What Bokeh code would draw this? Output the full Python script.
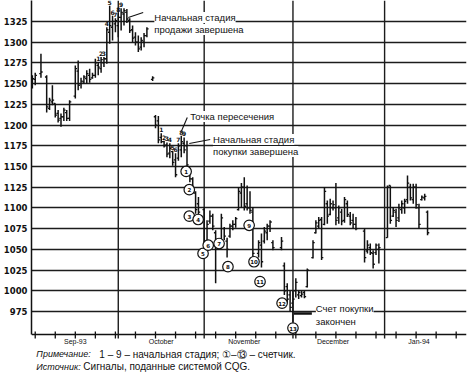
from bokeh.plotting import figure
from bokeh.models import ColumnDataSource, FixedTicker, Range1d, Label
from bokeh.core.properties import value
from bokeh.embed import file_html
from bokeh.resources import INLINE

# Daily bars; day = calendar days counted from 1 September
day = [0, 1, 3, 5, 6, 7, 8, 9, 10, 11, 12, 13, 15, 16, 17, 18, 19, 20, 21, 22, 23, 24, 25, 26, 27, 28, 29,
       30, 31, 32, 33, 34, 35, 36, 37, 38, 39, 40, 42, 43, 44, 45, 46, 47, 48, 49, 50, 51, 52, 53, 54, 55, 56, 57, 58, 60,
       61, 62, 63, 64, 66, 67, 68, 69, 70, 71, 72, 73, 74, 75, 76, 77, 79, 80, 81, 82, 83, 84, 87, 88, 89, 90,
       91, 92, 93, 94, 95, 96, 98, 99, 100, 101, 102, 103, 104, 105, 106, 107, 108, 109, 110, 111, 112, 113,
       116, 117, 118, 119, 120, 121,
       124, 125, 126, 127, 128, 129, 130, 131, 132, 133, 134, 135, 136, 137, 138]
open_ = [1252, 1255, 1262, 1258, 1220, 1228, 1226, 1214, 1208, 1210, 1215, 1208, 1235, 1265, 1250, 1252, 1256, 1260, 1257, 1260, 1272, 1268, 1275, 1280, 1312, 1318, 1322,
         1320, 1330, 1334, 1336, 1326, 1315, 1306, 1300, 1294, 1300, 1308, 1255, 1210, 1205, 1185, 1180, 1176, 1166, 1168, 1158, 1160, 1170, 1178, 1175, 1147, 1135, 1118, 1105, 1098,
         1060, 1084, 1090, 1070, 1062, 1075, 1060, 1066, 1078, 1080, 1098, 1118, 1125, 1105, 1100, 1095, 1045, 1055, 1060, 1070, 1078, 1058, 1052, 1030, 1005, 995,
         985, 1000, 995, 994, 998, 1005, 1040, 1070, 1078, 1086, 1080, 1105, 1092, 1100, 1100, 1088, 1095, 1085, 1105, 1090, 1085, 1080,
         1072, 1048, 1052, 1045, 1046, 1050,
         1064, 1127, 1090, 1095, 1088, 1098, 1100, 1110, 1125, 1110, 1125, 1100, 1110, 1112, 1095]
high = [1260, 1263, 1286, 1260, 1233, 1248, 1226, 1218, 1214, 1221, 1218, 1230, 1272, 1278, 1257, 1260, 1266, 1268, 1263, 1280, 1276, 1282, 1282, 1318, 1344, 1332, 1329,
        1335, 1341, 1341, 1340, 1329, 1320, 1312, 1308, 1306, 1311, 1318, 1259, 1212, 1211, 1190, 1181, 1179, 1178, 1169, 1166, 1178, 1187, 1185, 1181, 1148, 1137, 1120, 1113, 1101,
        1085, 1097, 1093, 1073, 1093, 1077, 1064, 1081, 1085, 1089, 1125, 1130, 1137, 1127, 1120, 1101, 1061, 1069, 1077, 1081, 1085, 1061, 1065, 1034, 1009, 1000,
        1000, 1015, 1000, 1000, 1000, 1027, 1061, 1085, 1089, 1089, 1125, 1109, 1111, 1109, 1130, 1103, 1099, 1113, 1109, 1095, 1093, 1089,
        1075, 1061, 1057, 1049, 1057, 1057,
        1127, 1127, 1101, 1099, 1105, 1109, 1111, 1139, 1129, 1129, 1129, 1105, 1115, 1117, 1097]
low = [1244, 1248, 1257, 1215, 1218, 1224, 1209, 1203, 1198, 1205, 1205, 1205, 1232, 1242, 1244, 1250, 1250, 1251, 1256, 1257, 1260, 1263, 1270, 1274, 1298, 1302, 1312,
       1306, 1314, 1320, 1323, 1311, 1300, 1296, 1288, 1290, 1294, 1306, 1253, 1196, 1178, 1178, 1173, 1161, 1160, 1151, 1137, 1157, 1161, 1166, 1149, 1131, 1117, 1093, 1090, 1045,
       1057, 1081, 1073, 1009, 1057, 1061, 1040, 1064, 1073, 1076, 1097, 1100, 1097, 1097, 1093, 1040, 1040, 1028, 1057, 1061, 1071, 1049, 1049, 995, 985, 975,
       962, 992, 990, 992, 991, 1004, 1039, 1069, 1075, 1037, 1079, 1081, 1091, 1097, 1079, 1081, 1079, 1082, 1089, 1079, 1075, 1073,
       1034, 1045, 1043, 1027, 1043, 1033,
       1064, 1081, 1089, 1077, 1083, 1093, 1093, 1105, 1109, 1105, 1099, 1075, 1109, 1109, 1067]
close = [1256, 1260, 1264, 1222, 1230, 1230, 1212, 1206, 1210, 1218, 1208, 1228, 1268, 1248, 1253, 1258, 1262, 1255, 1260, 1275, 1270, 1279, 1280, 1315, 1320, 1325, 1326,
         1330, 1336, 1338, 1328, 1314, 1305, 1300, 1292, 1302, 1308, 1316, 1257, 1200, 1182, 1180, 1175, 1165, 1172, 1155, 1140, 1175, 1180, 1170, 1152, 1135, 1120, 1098, 1095, 1055,
         1080, 1090, 1078, 1062, 1088, 1066, 1050, 1078, 1080, 1087, 1120, 1125, 1102, 1100, 1097, 1045, 1058, 1035, 1072, 1078, 1083, 1052, 1060, 1000, 990, 980,
         990, 1010, 998, 996, 993, 1025, 1058, 1082, 1085, 1040, 1120, 1090, 1105, 1104, 1085, 1100, 1084, 1110, 1092, 1082, 1080, 1075,
         1040, 1055, 1046, 1032, 1055, 1052,
         1125, 1085, 1097, 1085, 1100, 1105, 1108, 1130, 1112, 1125, 1104, 1080, 1113, 1114, 1070]

# TD setup bars (counts 1-9)
sell_setup_days = [23, 24, 25, 26, 27, 28, 29, 30, 31]
buy_setup_days = [45, 46, 47, 48, 49, 50, 51, 52, 53]

# TD countdown marks (circled 1-13)
countdown_day = [53.7, 54.8, 54.8, 57.9, 59.6, 61.4, 65.2, 68.3, 75.7, 77.4, 79.5, 87.2, 91.0]
countdown_price = [1144, 1122, 1090, 1086, 1045, 1055, 1057, 1029, 1079, 1035, 1011, 985, 955]

price_ticks = list(range(975, 1326, 25))
week_ticks = list(range(1, 149, 7))
month_starts = [30, 60, 91, 123]
month_label_at = [15, 45, 74, 105, 135]
month_names = ["Sep-93", "October", "November", "December", "Jan-94"]

FONT = "Liberation Sans"
INK = "#111111"

# price scale: 378 px tall canvas, the time axis sits at the price AXIS_Y
X0, X1 = -0.3, 151.6
AXIS_Y, Y_TOP = 947.2, 1350.3
UNITS_PER_PX = (Y_TOP - AXIS_Y) / 334.0
Y_BOTTOM = Y_TOP - 378 * UNITS_PER_PX

p = figure(width=467, height=378, x_range=Range1d(X0, X1), y_range=Range1d(Y_BOTTOM, Y_TOP),
           output_backend="svg", toolbar_location=None, x_axis_location=None,
           min_border_left=30, min_border_right=1, min_border_top=0, min_border_bottom=0)
p.outline_line_color = None
p.background_fill_color = "white"
p.border_fill_color = "white"

# horizontal price grid
p.ygrid.ticker = FixedTicker(ticks=price_ticks)
p.ygrid.grid_line_color = "#1c1c1c"
p.ygrid.grid_line_width = 1.4
p.xgrid.visible = False

# price axis
p.yaxis.ticker = FixedTicker(ticks=price_ticks, minor_ticks=[])
p.yaxis.bounds = (AXIS_Y, Y_TOP)
p.yaxis.major_tick_in = 0
p.yaxis.major_tick_out = 0
p.yaxis.minor_tick_in = 0
p.yaxis.minor_tick_out = 0
p.yaxis.axis_line_color = INK
p.yaxis.axis_line_width = 1.5
p.yaxis.major_label_text_font = "DejaVu Sans"
p.yaxis.major_label_text_font_style = "bold"
p.yaxis.major_label_text_font_size = "8.5px"
p.yaxis.major_label_text_color = INK
p.yaxis.major_label_standoff = 4

# time axis: base line, month dividers, weekly ticks, month names
tick_lo = AXIS_Y - 4 * UNITS_PER_PX
tick_hi = AXIS_Y + 3 * UNITS_PER_PX
p.segment(x0=[X0], y0=[AXIS_Y], x1=[X1], y1=[AXIS_Y], line_color=INK, line_width=1.5)
p.segment(x0=month_starts, y0=[tick_lo] * len(month_starts), x1=month_starts, y1=[Y_TOP] * len(month_starts),
          line_color="#1c1c1c", line_width=1.4)
p.segment(x0=week_ticks, y0=[tick_lo] * len(week_ticks), x1=week_ticks, y1=[tick_hi] * len(week_ticks),
          line_color=INK, line_width=1.3)
p.text(x=month_label_at, y=[AXIS_Y] * len(month_label_at), text=month_names, y_offset=3,
       text_align="center", text_baseline="top", text_font=value(FONT), text_font_size="7px", text_color=INK)

# OHLC bars
src = ColumnDataSource(dict(day=day, open=open_, high=high, low=low, close=close,
                            left=[d - 0.6 for d in day], right=[d + 0.6 for d in day]))
p.segment(x0="day", y0="low", x1="day", y1="high", source=src, line_color=INK, line_width=1.5)
p.segment(x0="left", y0="open", x1="day", y1="open", source=src, line_color=INK, line_width=1.3)
p.segment(x0="day", y0="close", x1="right", y1="close", source=src, line_color=INK, line_width=1.3)

# setup counts above the bars
hi_of = dict(zip(day, high))
setup_x = sell_setup_days + buy_setup_days
setup_y = [hi_of[d] for d in setup_x]
setup_txt = [str(i + 1) for i in range(9)] * 2
p.text(x=setup_x, y=setup_y, text=setup_txt, y_offset=-1, text_align="center", text_baseline="bottom",
       text_font=value("DejaVu Sans"), text_font_style="bold", text_font_size="6px", text_color=INK)

# countdown circles
p.scatter(x=countdown_day, y=countdown_price, marker="circle", size=10.5,
          fill_color="white", line_color=INK, line_width=1.2)
p.text(x=countdown_day, y=countdown_price, text=[str(i + 1) for i in range(13)],
       text_align="center", text_baseline="middle", text_font=value("DejaVu Sans"),
       text_font_style="bold", text_font_size="5.5px", text_color=INK)

# pointer lines
p.segment(x0=[33.5, 52.0, 54.8], y0=[1329.8, 1192.2, 1177.8],
          x1=[38.7, 54.1, 62.1], y1=[1335.9, 1209.1, 1182.6], line_color=INK, line_width=1.1)
p.segment(x0=[91.3], y0=[972.6], x1=[97.6], y1=[972.6], line_color=INK, line_width=2.5)


def note(x, y, txt, size="9.5px", style="normal"):
    p.add_layout(Label(x=x, y=y, text=txt, text_font=FONT, text_font_size=size,
                       text_font_style=style, text_color=INK, text_baseline="middle",
                       text_align="left", background_fill_color="white"))


note(42.6, 1329.8, "Начальная стадия")
note(42.6, 1315.3, "продажи завершена")
note(55.1, 1210.3, "Точка пересечения")
note(63.1, 1182.6, "Начальная стадия")
note(63.1, 1168.1, "покупки завершена")
note(99.0, 978.6, "Счет покупки")
note(99.0, 962.9, "закончен")

# footnotes under the axis
note(1.4, 923.1, "Примечание:", size="9px", style="italic")
note(23.4, 923.1, "1 – 9 – начальная стадия; ①–⑬ – счетчик.", size="10px")
note(1.4, 908.0, "Источник:", size="9px", style="italic")
note(17.8, 908.0, "Сигналы, поданные системой CQG.", size="10px")

open("out.html", "w").write(file_html(p, INLINE))
